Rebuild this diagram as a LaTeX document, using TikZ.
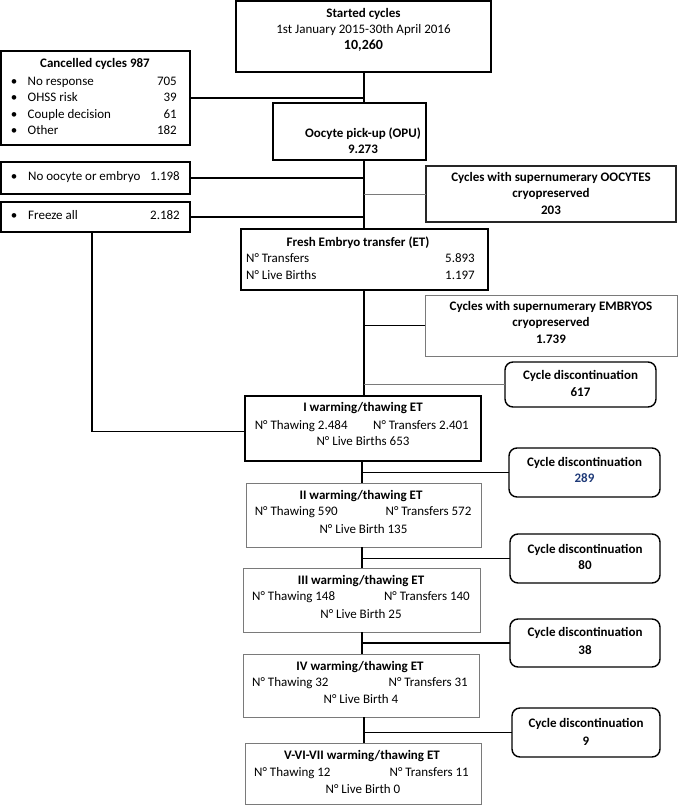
\documentclass[tikz,border=0pt]{standalone}
\usepackage{fontspec}
\setmainfont{Carlito}
\definecolor{dblue}{HTML}{1F3A78}
\definecolor{lgray}{HTML}{7A7A7A}
\newcommand\mybox[6]{\node[#6, minimum width={#4-#2}, minimum height={#5-#3}] (#1) at ({(#2+#4)/2},{(#3+#5)/2}) {};}
\tikzset{
  boxA/.style={draw=black, line width=1.4pt, inner sep=0pt, outer sep=0pt},
  boxB/.style={draw=black!85, line width=1.1pt, inner sep=0pt, outer sep=0pt},
  boxC/.style={draw=lgray, line width=0.9pt, inner sep=0pt, outer sep=0pt},
  discbox/.style={draw=black, line width=1.4pt, rounded corners=8pt, inner sep=0pt, outer sep=0pt},
  link/.style={draw=black, line width=1.1pt},
  glink/.style={draw=lgray, line width=1pt},
  lbl/.style={inner sep=0pt, anchor=mid},
  lblw/.style={inner sep=0pt, anchor=mid west},
  lble/.style={inner sep=0pt, anchor=mid east},
  bold/.style={font=\fontsize{13}{16}\selectfont\bfseries},
}
\begin{document}
\begin{tikzpicture}[x=1pt, y=-1pt, font=\fontsize{13}{16}\selectfont]
\useasboundingbox (0,0) rectangle (685,805);
\coordinate (sp) at (364,0);
\coordinate (spb) at (362,0);
\coordinate (fz) at (92,232);

% Started
\mybox{started}{236}{1}{491}{72}{boxA}
\node[lbl,bold] (st1) at (363.5,15) {Started cycles};
\node[lbl] (st2) at (363.5,31) {1st January 2015-30th April 2016};
\node[lbl,font=\fontsize{14}{16}\selectfont\bfseries] (st3) at (363.5,47) {10,260};

% Cancelled
\mybox{cancel}{1}{51}{190}{145}{boxA}
\node[lbl,bold] (c0) at (95,65) {Cancelled cycles 987};
\node[lbl] (cb1) at (14,83) {\textbullet};
\node[lblw] (ct1) at (27.5,83) {No response};
\node[lble] (cn1) at (177,83) {705};
\node[lbl] (cb2) at (14,99) {\textbullet};
\node[lblw] (ct2) at (27.5,99) {OHSS risk};
\node[lble] (cn2) at (177,99) {39};
\node[lbl] (cb3) at (14,116) {\textbullet};
\node[lblw] (ct3) at (27.5,116) {Couple decision};
\node[lble] (cn3) at (177,116) {61};
\node[lbl] (cb4) at (14,132) {\textbullet};
\node[lblw] (ct4) at (27.5,132) {Other};
\node[lble] (cn4) at (177,132) {182};

% OPU
\mybox{opu}{273}{103}{426}{160}{boxA}
\node[lbl,bold] (o1) at (363,135) {Oocyte pick-up (OPU)};
\node[lbl,bold] (o2) at (363,151) {9.273};

% No oocyte
\mybox{nooc}{1}{162}{190}{194}{boxA}
\node[lbl] (nb) at (14,178) {\textbullet};
\node[lblw] (nt) at (28,178) {No oocyte or embryo};
\node[lble] (nn) at (180,178) {1.198};

% Oocytes cryo
\mybox{oocy}{426}{166}{676}{222}{boxB}
\node[lbl,bold] (oc1) at (551,179) {Cycles with supernumerary OOCYTES};
\node[lbl,bold] (oc2) at (551,195) {cryopreserved};
\node[lbl,bold] (oc3) at (551,212) {203};

% Freeze all
\mybox{freeze}{1}{202}{190}{232}{boxA}
\node[lbl] (fb) at (14,217) {\textbullet};
\node[lblw] (ft) at (28,217) {Freeze all};
\node[lble] (fn) at (180,217) {2.182};

% Fresh ET
\mybox{fresh}{241}{229}{488}{290}{boxA}
\node[lbl,bold] (fr1) at (358,244) {Fresh Embryo transfer (ET)};
\node[lblw] (fr2) at (246,260) {N° Transfers};
\node[lble] (fr3) at (475,260) {5.893};
\node[lblw] (fr4) at (246,277) {N° Live Births};
\node[lble] (fr5) at (475,277) {1.197};

% Embryos cryo
\mybox{embr}{425}{295}{677}{356}{boxC}
\node[lbl,bold] (em1) at (551,308) {Cycles with supernumerary EMBRYOS};
\node[lbl,bold] (em2) at (551,324) {cryopreserved};
\node[lbl,bold] (em3) at (551,341) {1.739};

% Disc 617
\mybox{dA}{505}{362}{656}{407}{discbox}
\node[lbl,bold] (dA1) at (580.5,377) {Cycle discontinuation};
\node[lbl,bold] (dA2) at (580.5,394) {617};

% I
\mybox{thaw1}{245}{396}{481}{461}{boxA}
\node[lbl,bold] (t11) at (363,409) {I warming/thawing ET};
\node[lblw] (t12) at (254.6,427) {N° Thawing 2.484};
\node[lble] (t13) at (469,427) {N° Transfers 2.401};
\node[lbl] (t14) at (363,443) {N° Live Births 653};

% Disc 289
\mybox{dB}{509}{448}{660}{497}{discbox}
\node[lbl,bold] (dB1) at (584.5,464) {Cycle discontinuation};
\node[lbl,bold,text=dblue] (dB2) at (584.5,480) {289};

% II
\mybox{thaw2}{246}{483}{481}{547}{boxC}
\node[lbl,bold] (t21) at (361,497) {II warming/thawing ET};
\node[lblw] (t22) at (254.6,513) {N° Thawing 590};
\node[lble] (t23) at (471.6,513) {N° Transfers 572};
\node[lbl] (t24) at (363.5,531) {N° Live Birth 135};

% Disc 80
\mybox{dC}{510}{534}{660}{583}{discbox}
\node[lbl,bold] (dC1) at (585,551) {Cycle discontinuation};
\node[lbl,bold] (dC2) at (585,567) {80};

% III
\mybox{thaw3}{243}{568}{480}{632}{boxC}
\node[lbl,bold] (t31) at (361,582) {III warming/thawing ET};
\node[lblw] (t32) at (252,598) {N° Thawing 148};
\node[lble] (t33) at (470,598) {N° Transfers 140};
\node[lbl] (t34) at (361,616) {N° Live Birth 25};

% Disc 38
\mybox{dD}{510}{619}{660}{667}{discbox}
\node[lbl,bold] (dD1) at (585,634) {Cycle discontinuation};
\node[lbl,bold] (dD2) at (585,652) {38};

% IV
\mybox{thaw4}{243}{654}{479}{717}{boxC}
\node[lbl,bold] (t41) at (360,668) {IV warming/thawing ET};
\node[lblw] (t42) at (252,684) {N° Thawing 32};
\node[lble] (t43) at (468,684) {N° Transfers 31};
\node[lbl] (t44) at (361,701) {N° Live Birth 4};

% Disc 9
\mybox{dE}{512}{708}{660}{757}{discbox}
\node[lbl,bold] (dE1) at (586,725) {Cycle discontinuation};
\node[lbl,bold] (dE2) at (586,743) {9};

% V
\mybox{thaw5}{245}{743}{481}{804}{boxC}
\node[lbl,bold] (t51) at (362,757) {V-VI-VII warming/thawing ET};
\node[lblw] (t52) at (254,774) {N° Thawing 12};
\node[lble] (t53) at (469,774) {N° Transfers 11};
\node[lbl] (t54) at (363,791) {N° Live Birth 0};

% connectors
\draw[link] (started.south -| sp) -- (opu.north -| sp);
\draw[link] (cancel.east) -- (cancel.east -| sp);
\draw[link] (opu.south -| sp) -- (fresh.north -| sp);
\draw[link] (nooc.east) -- (nooc.east -| sp);
\draw[glink] (oocy.west) -- (oocy.west -| sp);
\draw[link] (freeze.east) -- (freeze.east -| sp);
\draw[link] (fz) |- ([yshift=-3pt]thaw1.west);
\draw[link] (fresh.south -| sp) -- (thaw1.north -| sp);
\draw[link] (embr.west) -- (embr.west -| sp);
\draw[glink] (dA.west) -- (dA.west -| sp);
\draw[link] (thaw1.south -| spb) -- (thaw2.north -| spb);
\draw[link] (dB.west) -- (dB.west -| spb);
\draw[link] (thaw2.south -| spb) -- (thaw3.north -| spb);
\draw[link] (dC.west) -- (dC.west -| spb);
\draw[link] (thaw3.south -| spb) -- (thaw4.north -| spb);
\draw[link] (dD.west) -- (dD.west -| spb);
\draw[link] (thaw4.south -| sp) -- (thaw5.north -| sp);
\draw[link] (dE.west) -- (dE.west -| sp);
\end{tikzpicture}
\end{document}
